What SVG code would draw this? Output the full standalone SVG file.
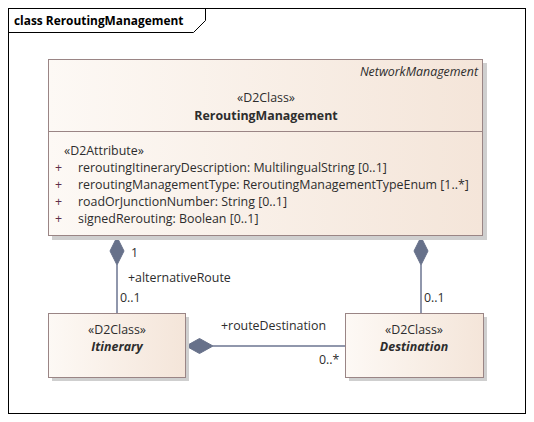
<svg xmlns="http://www.w3.org/2000/svg" width="534" height="422" viewBox="0 0 534 422">
<style>
text{font-family:"Open Sans","Liberation Sans",sans-serif;font-size:12.4px;fill:#2d2d2d}
.b{font-weight:bold}
.i{font-style:italic}
.bi{font-weight:bold;font-style:italic}
.m{text-anchor:middle}
.p{fill:#5e2e4a}
.box{fill:url(#g);stroke:#9a8585;stroke-width:1}
.sh{fill:#cfcfcf}
.ln{stroke:#6b7590;stroke-width:1.5;fill:none}
.dia{fill:#67718a;stroke:#67718a;stroke-width:1}
</style>
<defs>
<linearGradient id="g" x1="0" y1="0" x2="1" y2="0">
<stop offset="0" stop-color="#fdf9f5"/>
<stop offset="1" stop-color="#f4e5d9"/>
</linearGradient>
</defs>
<rect x="0" y="0" width="534" height="422" fill="#fff"/>
<g id="frame">
<rect x="8.5" y="8.5" width="517" height="405" fill="none" stroke="#000"/>
<path d="M8.5,32.5 H193.5 L205.5,20.5 V8.5" fill="none" stroke="#000"/>
<text x="14" y="25" class="b" style="font-size:11.9px;fill:#000">class ReroutingManagement</text>
</g>
<g id="connectors">
<line class="ln" x1="117" y1="265" x2="117" y2="313"/>
<path class="dia" d="M117,237 L124,251 L117,265 L110,251 Z"/>
<line class="ln" x1="421" y1="265" x2="421" y2="313"/>
<path class="dia" d="M421,237 L428,251 L421,265 L414,251 Z"/>
<line class="ln" x1="213" y1="346" x2="345" y2="346"/>
<path class="dia" d="M186,346 L199.5,338.5 L213,346 L199.5,353.5 Z"/>
<text x="131" y="257">1</text>
<text x="128" y="282">+alternativeRoute</text>
<text x="120" y="302">0..1</text>
<text x="424" y="302">0..1</text>
<text x="221" y="330">+routeDestination</text>
<text x="319" y="364">0..*</text>
</g>
<g id="ReroutingManagement">
<rect class="sh" x="52" y="63" width="435" height="177"/>
<rect class="box" x="48.5" y="59.5" width="434" height="176"/>
<line x1="48.5" y1="131.5" x2="482.5" y2="131.5" stroke="#9a8585"/>
<text x="478" y="76" class="i" text-anchor="end">NetworkManagement</text>
<text x="266" y="102" class="m">«D2Class»</text>
<text x="266" y="120" class="m b">ReroutingManagement</text>
<text x="64" y="155">«D2Attribute»</text>
<text x="55" y="172" class="p">+</text>
<text x="78" y="172">reroutingItineraryDescription: MultilingualString [0..1]</text>
<text x="55" y="189" class="p">+</text>
<text x="78" y="189">reroutingManagementType: ReroutingManagementTypeEnum [1..*]</text>
<text x="55" y="206" class="p">+</text>
<text x="78" y="206">roadOrJunctionNumber: String [0..1]</text>
<text x="55" y="223" class="p">+</text>
<text x="78" y="223">signedRerouting: Boolean [0..1]</text>
</g>
<g id="Itinerary">
<rect class="sh" x="52" y="317" width="137" height="64"/>
<rect class="box" x="48.5" y="313.5" width="137" height="64"/>
<text x="117" y="334" class="m">«D2Class»</text>
<text x="117" y="351" class="m bi">Itinerary</text>
</g>
<g id="Destination">
<rect class="sh" x="349" y="317" width="138" height="64"/>
<rect class="box" x="345.5" y="313.5" width="138" height="64"/>
<text x="414" y="334" class="m">«D2Class»</text>
<text x="414" y="351" class="m bi">Destination</text>
</g>
</svg>
